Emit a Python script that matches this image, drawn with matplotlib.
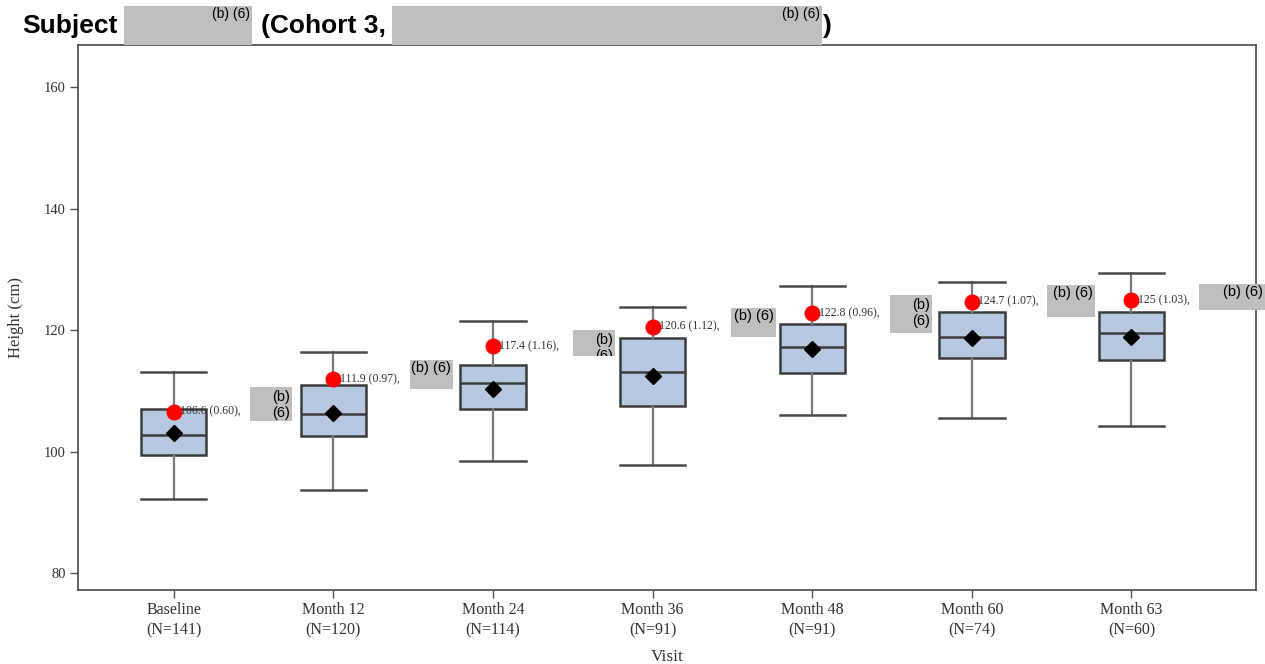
import matplotlib
matplotlib.use("Agg")
import matplotlib.pyplot as plt
import matplotlib.transforms as mtransforms
from matplotlib.patches import Rectangle

# ---- data ----
visits = ["Baseline", "Month 12", "Month 24", "Month 36", "Month 48", "Month 60", "Month 63"]
n_subjects = [141, 120, 114, 91, 91, 74, 60]
whisker_low = [92.2, 93.7, 98.5, 97.8, 106.0, 105.5, 104.2]
q1 = [99.5, 102.5, 107.1, 107.6, 113.0, 115.5, 115.1]
median = [102.8, 106.2, 111.3, 113.2, 117.2, 118.9, 119.5]
q3 = [107.1, 110.9, 114.3, 118.7, 121.0, 123.0, 123.0]
whisker_high = [113.2, 116.4, 121.6, 123.9, 127.3, 127.9, 129.5]
group_mean = [103.0, 106.3, 110.4, 112.5, 116.9, 118.7, 118.9]
subject_height = [106.6, 111.9, 117.4, 120.6, 122.8, 124.7, 125.0]
subject_sd = [0.60, 0.97, 1.16, 1.12, 0.96, 1.07, 1.03]
y_ticks = [80, 100, 120, 140, 160]

W, H = 1265, 664
fig = plt.figure(figsize=(W / 100, H / 100), dpi=100)
ax = fig.add_axes([78 / W, 1 - 590 / H, (1256 - 78) / W, (590 - 45) / H])

serif = "Liberation Serif"
sans = "Liberation Sans"
txt_col = "#333333"

stats = []
for i in range(len(visits)):
    stats.append(dict(med=median[i], q1=q1[i], q3=q3[i],
                      whislo=whisker_low[i], whishi=whisker_high[i],
                      mean=group_mean[i], fliers=[]))

pos = list(range(len(visits)))
ax.bxp(stats, positions=pos, widths=0.41, patch_artist=True, showmeans=True,
       showfliers=False,
       boxprops=dict(facecolor="#b7c8e1", edgecolor="#3c3c3c", linewidth=1.8),
       medianprops=dict(color="#3c3c3c", linewidth=1.8),
       whiskerprops=dict(color="#7a7a7a", linewidth=1.6),
       capprops=dict(color="#4a4a4a", linewidth=1.8),
       capwidths=0.41,
       meanprops=dict(marker="D", markerfacecolor="black", markeredgecolor="black",
                      markersize=8.5))

ax.plot(pos, subject_height, linestyle="none", marker="o", color="#ff0000",
        markersize=10.5, zorder=5)
for i, (v, sd) in enumerate(zip(subject_height, subject_sd)):
    ax.annotate(f"{v:g} ({sd:.2f}),", (i, v), xytext=(4.5, 0),
                textcoords="offset points", va="center", ha="left",
                fontsize=8.5, family=serif, color="#333333", zorder=6)

ax.set_xlim(-0.6, 6.78)
ax.set_ylim(77.2, 167.0)
ax.set_yticks(y_ticks)
ax.set_xticks(pos)
ax.set_xticklabels([f"{v}\n(N={n})" for v, n in zip(visits, n_subjects)],
                   family=serif, fontsize=11.5, color=txt_col, linespacing=1.3)
ax.set_yticklabels([str(t) for t in y_ticks], family=serif, fontsize=10.5,
                   color=txt_col)
ax.tick_params(axis="both", direction="out", length=6, width=1, color="#555555",
               pad=3)
ax.tick_params(axis="x", pad=3)
for s in ax.spines.values():
    s.set_color("#4a4a4a")
    s.set_linewidth(1.2)

ax.set_ylabel("Height (cm)", family=serif, fontsize=12, color=txt_col, labelpad=14)
ax.set_xlabel("Visit", family=serif, fontsize=12.5, color=txt_col, labelpad=8)

# pixel-space transform (origin top-left, y downwards)
px = mtransforms.Affine2D().scale(1 / W, -1 / H).translate(0, 1) + fig.transFigure

gray = "#bfbfbf"


def redaction(x0, y0, x1, y1, text, fs=10, top_pad=1):
    rect = Rectangle((x0, y0), x1 - x0, y1 - y0, transform=px, facecolor=gray,
                     edgecolor="none", zorder=10)
    fig.add_artist(rect)
    t = fig.text(x1 - 2, y0 + top_pad, text, transform=px, ha="right", va="top",
                 fontsize=fs, family=sans, color="black", linespacing=1.15,
                 zorder=11)
    t.set_clip_path(rect)


# title
title_kw = dict(transform=px, ha="left", va="baseline", fontsize=19,
                family=sans, fontweight="bold", color="black")
fig.text(22, 33, "Subject", **title_kw)
fig.text(261, 33, "(Cohort 3,", **title_kw)
fig.text(823, 33, ")", **title_kw)
redaction(124, 6, 252, 45, "(b) (6)")
redaction(392, 6, 822, 45, "(b) (6)")

# redacted annotation tails
redaction(250, 387, 292, 421, "(b)\n(6)", fs=10.5, top_pad=3)
redaction(410, 360, 453, 389, "(b) (6)", fs=10.5, top_pad=1)
redaction(573, 330, 615, 356, "(b)\n(6)", fs=10.5, top_pad=3)
redaction(731, 308, 776, 337, "(b) (6)", fs=10.5, top_pad=1)
redaction(890, 295, 932, 333, "(b)\n(6)", fs=10.5, top_pad=3)
redaction(1047, 285, 1095, 317, "(b) (6)", fs=10.5, top_pad=1)
redaction(1199, 284, 1265, 310, "(b) (6)", fs=10.5, top_pad=1)

fig.savefig("out.png", dpi=100)
